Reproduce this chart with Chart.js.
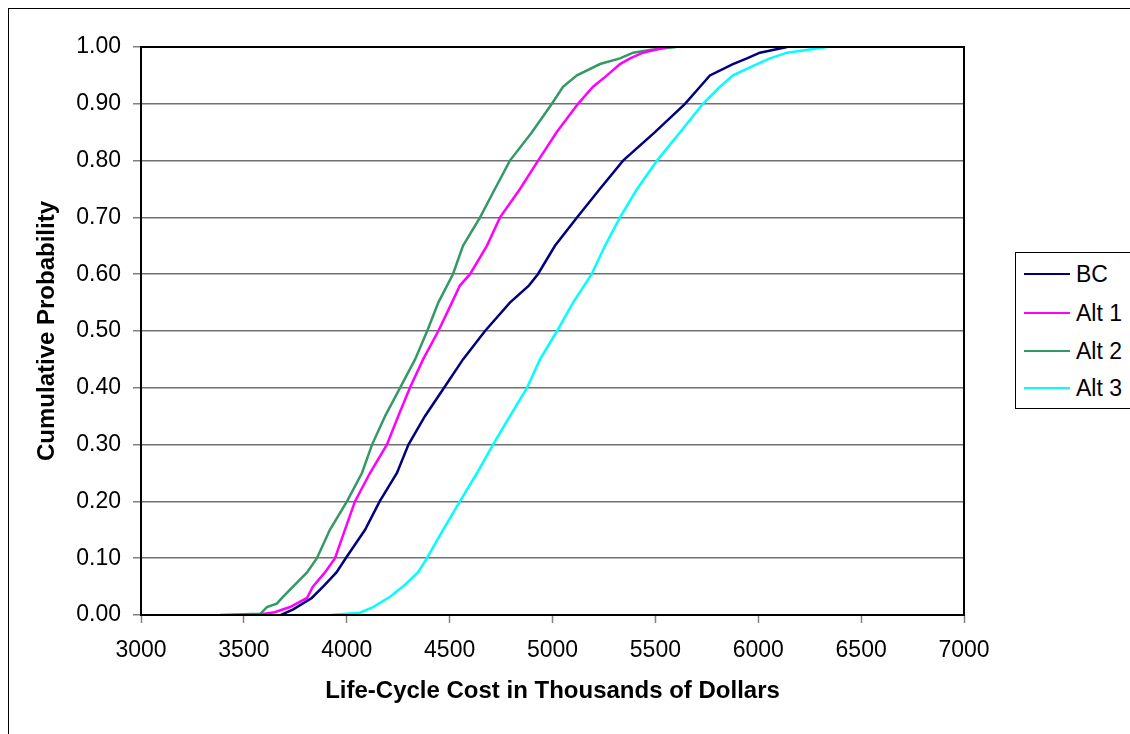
<!DOCTYPE html>
<html>
<head>
<meta charset="utf-8">
<title>Cumulative Probability</title>
<script src="https://cdn.jsdelivr.net/npm/chart.js@4.4.1/dist/chart.umd.min.js"></script>
<style>
  html, body { margin:0; padding:0; background:#fff; overflow:hidden; }
  #wrap { position:relative; width:1130px; height:734px; overflow:hidden; }
  #frame { position:absolute; left:8px; top:8px; width:1200px; height:800px; border:1px solid #000; }
  #chart { position:absolute; left:0; top:0; }
  #legend { position:absolute; left:1015px; top:252px; width:140px; height:155px;
            border:1px solid #000; background:#fff;
            font-family:'Liberation Sans', Arial, sans-serif; font-size:23px; color:#000; }
  .item { position:absolute; left:8px; height:30px; display:flex; align-items:center; white-space:nowrap; }
  .swatch { width:46px; height:2.5px; margin-right:6px; }
</style>
</head>
<body>
<div id="wrap">
  <div id="frame"></div>
  <canvas id="chart" width="1130" height="734"></canvas>
  <div id="legend"></div>
</div>
<script>
// Series names and colours
const seriesNames = ["BC", "Alt 1", "Alt 2", "Alt 3"];
const seriesColors = ["#000080", "#FF00FF", "#339966", "#00FFFF"];

const bcCost  = [3680, 3740, 3830, 3885, 3950, 3995, 4089, 4160, 4244, 4300, 4380, 4473, 4565, 4672, 4793, 4885, 4929, 5012, 5119, 5230, 5343, 5498, 5644, 5717, 5765, 5877, 5945, 6008, 6140];
const bcProb  = [0.00, 0.01, 0.03, 0.05, 0.075, 0.10, 0.15, 0.20, 0.25, 0.30, 0.35, 0.40, 0.45, 0.50, 0.55, 0.58, 0.60, 0.65, 0.70, 0.75, 0.80, 0.85, 0.90, 0.93, 0.95, 0.97, 0.98, 0.99, 1.00];

const alt1Cost = [3560, 3650, 3724, 3807, 3835, 3894, 3943, 3991, 4040, 4113, 4195, 4250, 4307, 4371, 4445, 4511, 4550, 4599, 4681, 4745, 4842, 4930, 5020, 5124, 5197, 5265, 5328, 5377, 5440, 5556];
const alt1Prob = [0.00, 0.005, 0.014, 0.03, 0.05, 0.075, 0.10, 0.15, 0.20, 0.25, 0.30, 0.35, 0.40, 0.45, 0.50, 0.55, 0.58, 0.60, 0.65, 0.70, 0.75, 0.80, 0.85, 0.90, 0.93, 0.95, 0.97, 0.98, 0.99, 1.00];

const alt2Cost = [3384, 3580, 3612, 3660, 3690, 3739, 3807, 3855, 3918, 4001, 4074, 4123, 4186, 4259, 4332, 4391, 4445, 4516, 4565, 4648, 4720, 4793, 4900, 4997, 5051, 5119, 5231, 5328, 5392, 5480, 5600];
const alt2Prob = [0.00, 0.002, 0.014, 0.02, 0.032, 0.05, 0.075, 0.10, 0.15, 0.20, 0.25, 0.30, 0.35, 0.40, 0.45, 0.50, 0.55, 0.60, 0.65, 0.70, 0.75, 0.80, 0.85, 0.90, 0.93, 0.95, 0.97, 0.98, 0.99, 0.995, 1.00];

const alt3Cost = [3923, 4064, 4128, 4210, 4273, 4346, 4390, 4468, 4550, 4633, 4711, 4793, 4876, 4939, 5022, 5100, 5190, 5255, 5328, 5411, 5508, 5620, 5731, 5814, 5877, 5994, 6057, 6140, 6334];
const alt3Prob = [0.00, 0.004, 0.014, 0.032, 0.05, 0.075, 0.10, 0.15, 0.20, 0.25, 0.30, 0.35, 0.40, 0.45, 0.50, 0.55, 0.60, 0.65, 0.70, 0.75, 0.80, 0.85, 0.90, 0.93, 0.95, 0.97, 0.98, 0.99, 1.00];

// Axis ticks
const xTicks = [3000, 3500, 4000, 4500, 5000, 5500, 6000, 6500, 7000];
const yTicks = [0, 0.1, 0.2, 0.3, 0.4, 0.5, 0.6, 0.7, 0.8, 0.9, 1.0];

const xTitle = "Life-Cycle Cost in Thousands of Dollars";
const yTitle = "Cumulative Probability";

function toPoints(xs, ys){
  return xs.map((x, i) => ({ x: x, y: ys[i] }));
}

// Plot border (Excel draws a full box round the plot area)
const plotBorder = {
  id: 'plotBorder',
  afterDatasetsDraw(chart){
    const a = chart.chartArea, ctx = chart.ctx;
    ctx.save();
    ctx.strokeStyle = '#000';
    ctx.lineWidth = 2;
    ctx.strokeRect(a.left, a.top, a.right - a.left, a.bottom - a.top);
    ctx.restore();
  }
};

function renderLegend(){
  const box = document.getElementById('legend');
  const tops = [6, 45, 83, 120];
  seriesNames.forEach((name, i) => {
    const d = document.createElement('div');
    d.className = 'item';
    d.style.top = tops[i] + 'px';
    d.innerHTML = '<span class="swatch" style="background:' + seriesColors[i] + '"></span>' + name;
    box.appendChild(d);
  });
}

function renderChart(){
  Chart.defaults.font.family = "'Liberation Sans', Arial, sans-serif";
  Chart.defaults.color = '#000';
  const costs = [bcCost, alt1Cost, alt2Cost, alt3Cost];
  const probs = [bcProb, alt1Prob, alt2Prob, alt3Prob];

  new Chart(document.getElementById('chart'), {
    type: 'scatter',
    data: {
      datasets: seriesNames.map((n, i) => ({
        label: n,
        data: toPoints(costs[i], probs[i]),
        showLine: true,
        borderColor: seriesColors[i],
        backgroundColor: seriesColors[i],
        borderWidth: 2.5,
        pointRadius: 0,
        tension: 0
      }))
    },
    options: {
      responsive: false,
      animation: false,
      devicePixelRatio: 1,
      layout: { padding: { top: 47, right: 166, left: 0, bottom: 0 } },
      plugins: { legend: { display: false }, tooltip: { enabled: false } },
      scales: {
        x: {
          type: 'linear', min: 3000, max: 7000,
          afterBuildTicks: s => { s.ticks = xTicks.map(v => ({ value: v })); },
          afterFit: s => { s.height = 119; },
          ticks: { font: { size: 23 }, padding: 14, maxRotation: 0, callback: v => String(v) },
          grid: { drawOnChartArea: false, tickLength: 8, tickColor: '#808080', tickWidth: 1.5 },
          border: { display: false },
          title: { display: true, text: xTitle, font: { size: 24, weight: 'bold' }, padding: { top: 0, bottom: 28 } }
        },
        y: {
          type: 'linear', min: 0, max: 1,
          afterBuildTicks: s => { s.ticks = yTicks.map(v => ({ value: v })); },
          afterFit: s => { s.width = 141; },
          ticks: { font: { size: 23 }, padding: 12, callback: v => Number(v).toFixed(2) },
          grid: { color: '#707070', lineWidth: 1.5, tickLength: 8, tickColor: '#808080', tickWidth: 1.5 },
          border: { display: false },
          title: { display: true, text: yTitle, font: { size: 24, weight: 'bold' }, padding: { top: 33, bottom: 0 } }
        }
      }
    },
    plugins: [plotBorder]
  });
}

function init(){
  renderChart();
  renderLegend();
}

document.addEventListener('DOMContentLoaded', init);
</script>
</body>
</html>
